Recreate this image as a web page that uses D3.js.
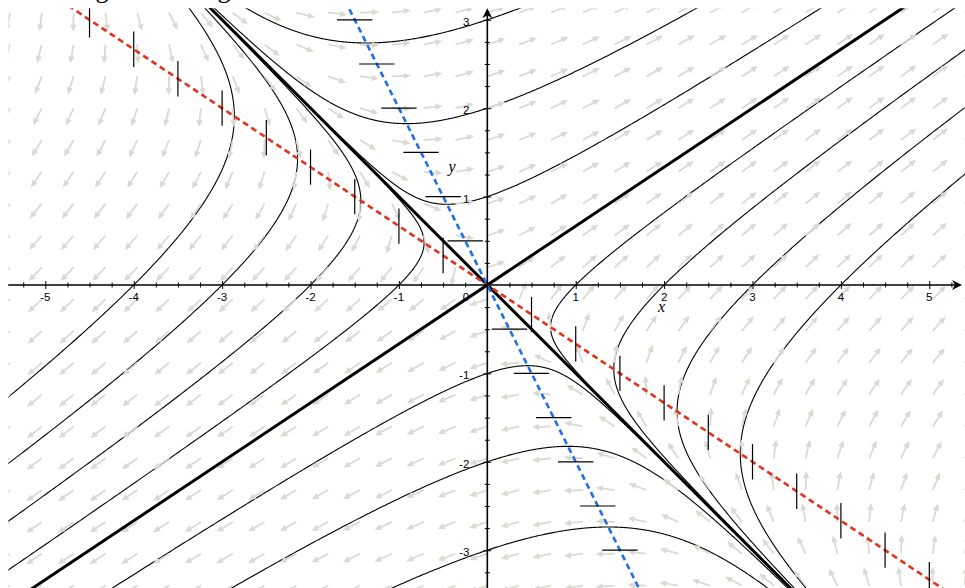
<!DOCTYPE html>
<html>
<head>
<meta charset="utf-8">
<script src="https://cdn.jsdelivr.net/npm/d3@7"></script>
<style>
  html, body { margin: 0; padding: 0; background: #fff; }
  svg { display: block; }
  .lbl { font-family: "Liberation Sans", Arial, sans-serif; font-size: 11.5px; fill: #000; }
  .axname { font-family: "Liberation Serif", "Times New Roman", serif; font-style: italic; font-size: 16px; fill: #000; }
</style>
</head>
<body>
<svg id="chart" width="965" height="588"></svg>
<script>
// system x' = A x  (saddle, eigenvalues 4 and -1)
var systemA = [[2, 3], [2, 1]];
var eigenDirs = [[3, 2], [1, -1]];
// points the drawn solution curves pass through
var seeds = [[0, 1], [0, 2], [0, 3], [0, -1], [0, -2], [0, -3],
             [1, 0], [2, 0], [3, 0], [4, 0], [-1, 0], [-2, 0], [-3, 0], [-4, 0]];
// slope marks on the nullclines
var redMarkX = [-4.5, -4, -3.5, -3, -2.5, -2, -1.5, -1, -0.5, 0.5, 1, 1.5, 2, 2.5, 3, 3.5, 4, 4.5, 5];
var blueMarkY = [-3, -2.5, -2, -1.5, -1, -0.5, 0.5, 1, 1.5, 2, 2.5, 3];
var xTicks = [-5, -4, -3, -2, -1, 1, 2, 3, 4, 5];
var yTicks = [-3, -2, -1, 1, 2, 3];
// direction field grid (arrow tails)
var fieldX = d3.range(-5.4, 5.41, 0.36);
var fieldY = d3.range(3.08, -3.41, -0.36);

var svg = d3.select("#chart");
var x = d3.scaleLinear().domain([-5.42, 5.5]).range([8.2, 973.5]);
var y = d3.scaleLinear().domain([-3.43, 3.13]).range([588.2, 8.3]);
var line = d3.line().x(function(d){ return x(d[0]); }).y(function(d){ return y(d[1]); });

// title, mostly above the visible area
svg.append("text")
    .attr("x", 27.6).attr("y", -2)
    .attr("font-family", "Liberation Serif, Times New Roman, serif")
    .attr("font-size", 26)
    .text("Solving a linear eigenvalue task");

svg.append("defs").append("clipPath").attr("id", "clip_plot")
  .append("rect").attr("x", 8.3).attr("y", 8.3).attr("width", 960).attr("height", 582);

var plot = svg.append("g").attr("clip-path", "url(#clip_plot)");

function field(p){
    return [systemA[0][0]*p[0] + systemA[0][1]*p[1], systemA[1][0]*p[0] + systemA[1][1]*p[1]];
}

function trace(p0, h){
    var pts = [p0], p = p0;
    for (var i = 0; i < 8000; i++) {
        var k1 = field(p);
        var k2 = field([p[0] + h/2*k1[0], p[1] + h/2*k1[1]]);
        var k3 = field([p[0] + h/2*k2[0], p[1] + h/2*k2[1]]);
        var k4 = field([p[0] + h*k3[0], p[1] + h*k3[1]]);
        p = [p[0] + h/6*(k1[0] + 2*k2[0] + 2*k3[0] + k4[0]),
             p[1] + h/6*(k1[1] + 2*k2[1] + 2*k3[1] + k4[1])];
        pts.push(p);
        if (Math.abs(p[0]) > 8 || Math.abs(p[1]) > 6) break;
    }
    return pts;
}

// solution curves
seeds.forEach(function(s){
    var back = trace(s, -0.002).reverse();
    var fwd = trace(s, 0.002).slice(1);
    plot.append("path")
        .attr("d", line(back.concat(fwd)))
        .attr("fill", "none")
        .attr("stroke", "#000")
        .attr("stroke-width", 1.1);
});

// direction field
var arrowLen = 19;
var arrows = plot.append("g");
fieldX.forEach(function(gx){
    fieldY.forEach(function(gy){
        var v = field([gx, gy]);
        var px = x(gx), py = y(gy);
        var dx = x(gx + v[0]) - px, dy = y(gy + v[1]) - py;
        var n = Math.sqrt(dx*dx + dy*dy);
        if (n < 1e-9) return;
        dx /= n; dy /= n;
        var tx = px + arrowLen*dx, ty = py + arrowLen*dy;
        arrows.append("line")
            .attr("x1", px).attr("y1", py)
            .attr("x2", tx - 4*dx).attr("y2", ty - 4*dy)
            .attr("stroke", "#dadad3").attr("stroke-width", 1.8);
        var bx = tx - 7*dx, by = ty - 7*dy;
        arrows.append("path")
            .attr("d", "M" + tx + "," + ty +
                       "L" + (bx - 3.2*dy) + "," + (by + 3.2*dx) +
                       "L" + (bx + 3.2*dy) + "," + (by - 3.2*dx) + "Z")
            .attr("fill", "#dadad3");
    });
});

// straight-line solutions
eigenDirs.forEach(function(e){
    plot.append("path")
        .attr("d", line([[-5*e[0], -5*e[1]], [5*e[0], 5*e[1]]]))
        .attr("stroke", "#000").attr("stroke-width", 3).attr("fill", "none");
});

// nullclines
var nullRed = [systemA[0][1], -systemA[0][0]];
var nullBlue = [systemA[1][1], -systemA[1][0]];
plot.append("path")
    .attr("d", line([[-5*nullRed[0], -5*nullRed[1]], [5*nullRed[0], 5*nullRed[1]]]))
    .attr("stroke", "#e2321d").attr("stroke-width", 2.6).attr("stroke-dasharray", "6,4").attr("fill", "none");
plot.append("path")
    .attr("d", line([[-5*nullBlue[0], -5*nullBlue[1]], [5*nullBlue[0], 5*nullBlue[1]]]))
    .attr("stroke", "#1f6fe6").attr("stroke-width", 2.6).attr("stroke-dasharray", "6,4").attr("fill", "none");

// slope marks
plot.selectAll(".vmark").data(redMarkX).enter().append("line")
    .attr("x1", function(d){ return x(d); }).attr("x2", function(d){ return x(d); })
    .attr("y1", function(d){ return y(-systemA[0][0]/systemA[0][1]*d - 0.2); })
    .attr("y2", function(d){ return y(-systemA[0][0]/systemA[0][1]*d + 0.2); })
    .attr("stroke", "#000").attr("stroke-width", 1.2);
plot.selectAll(".hmark").data(blueMarkY).enter().append("line")
    .attr("y1", function(d){ return y(d); }).attr("y2", function(d){ return y(d); })
    .attr("x1", function(d){ return x(-systemA[1][1]/systemA[1][0]*d - 0.2); })
    .attr("x2", function(d){ return x(-systemA[1][1]/systemA[1][0]*d + 0.2); })
    .attr("stroke", "#000").attr("stroke-width", 1.2);

// axes
var ox = x(0), oy = y(0);
var xTip = x(5.37), yTip = y(3.13);
svg.append("line").attr("x1", x(-5.42)).attr("y1", oy).attr("x2", xTip - 5).attr("y2", oy)
    .attr("stroke", "#000").attr("stroke-width", 1.6);
svg.append("line").attr("x1", ox).attr("y1", y(-3.43)).attr("x2", ox).attr("y2", yTip + 5)
    .attr("stroke", "#000").attr("stroke-width", 1.6);
svg.append("path")
    .attr("d", "M" + xTip + "," + oy + "l-10,-5l3,5l-3,5z").attr("fill", "#000");
svg.append("path")
    .attr("d", "M" + ox + "," + yTip + "l-5,10l5,-3l5,3z").attr("fill", "#000");

var minorX = d3.range(-5.25, 5.3, 0.25).filter(function(d){ return Math.abs(d - Math.round(d)) > 0.01; });
var minorY = d3.range(-3.25, 3.1, 0.25).filter(function(d){ return Math.abs(d - Math.round(d)) > 0.01; });

function styleTicks(g){
    g.select(".domain").remove();
    g.selectAll(".tick line").attr("stroke", "#000").attr("stroke-width", 1);
    g.selectAll(".tick text").remove();
}
svg.append("g").attr("transform", "translate(0," + (oy - 4) + ")")
    .call(d3.axisBottom(x).tickValues(xTicks).tickSize(8)).call(styleTicks);
svg.append("g").attr("transform", "translate(0," + (oy - 2.5) + ")")
    .call(d3.axisBottom(x).tickValues(minorX).tickSize(5)).call(styleTicks);
svg.append("g").attr("transform", "translate(" + (ox + 4) + ",0)")
    .call(d3.axisLeft(y).tickValues(yTicks).tickSize(8)).call(styleTicks);
svg.append("g").attr("transform", "translate(" + (ox + 2.5) + ",0)")
    .call(d3.axisLeft(y).tickValues(minorY).tickSize(5)).call(styleTicks);

svg.selectAll(".xl").data(xTicks).enter().append("text")
    .attr("class", "lbl").attr("text-anchor", "middle")
    .attr("x", function(d){ return x(d); }).attr("y", oy + 15.6)
    .text(function(d){ return String(d); });
svg.append("text").attr("class", "lbl").attr("text-anchor", "middle")
    .attr("x", ox - 21.3).attr("y", oy + 15.6).text("0");
svg.selectAll(".yl").data(yTicks).enter().append("text")
    .attr("class", "lbl").attr("text-anchor", "end")
    .attr("x", ox - 18).attr("y", function(d){ return y(d) + 6; })
    .text(function(d){ return String(d); });

svg.append("text").attr("class", "axname").attr("text-anchor", "middle")
    .attr("x", x(1.97)).attr("y", oy + 27.5).text("x");
svg.append("text").attr("class", "axname").attr("text-anchor", "middle")
    .attr("x", x(-0.4)).attr("y", y(1.28)).text("y");
</script>
</body>
</html>
